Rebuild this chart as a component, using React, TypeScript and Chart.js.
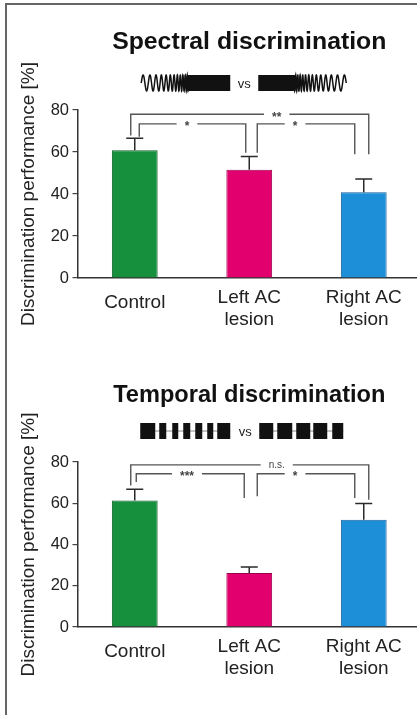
import React, { useEffect, useRef } from "react";
import { Chart, registerables } from "chart.js";

Chart.register(...registerables);

// ---------- data ----------
const categories: (string | string[])[] = ["Control", ["Left AC", "lesion"], ["Right AC", "lesion"]];

const spectralMeans = [60.8, 51.5, 40.8];
const spectralErrTop = [66.5, 57.8, 47.1];

const temporalMeans = [61.3, 26.2, 52.0];
const temporalErrTop = [66.8, 29.1, 59.9];

const spectralLabels = ["**", "*", "*"];
const temporalLabels = ["n.s.", "***", "*"];

const yTicks = [0, 20, 40, 60, 80];

// ---------- styles ----------
const FONT = "'Liberation Sans', Arial, Helvetica, sans-serif";
const barColors = ["#17903d", "#e2006f", "#1d8fd8"];
const barBorders = ["#0b5e26", "#9a004b", "#10609a"];

// bracket geometry (pairs, heights in axis units, pixel offsets of legs, label position)
type Bracket = {
  from: number; to: number; level: number; leftEnd: number; rightEnd: number;
  labelAt: number; dxL: number; dxR: number;
};

const spectralBracketLayout: Bracket[] = [
  { from: 0, to: 2, level: 78.0, leftEnd: 67.9, rightEnd: 58.9, labelAt: 1.24, dxL: -4, dxR: 5 },
  { from: 0, to: 1, level: 73.4, leftEnd: 67.3, rightEnd: 59.7, labelAt: 0.456, dxL: 4.5, dxR: -3.5 },
  { from: 1, to: 2, level: 73.4, leftEnd: 59.7, rightEnd: 58.9, labelAt: 1.4, dxL: 8, dxR: -9 },
];

const temporalBracketLayout: Bracket[] = [
  { from: 0, to: 2, level: 78.6, leftEnd: 68.6, rightEnd: 61.7, labelAt: 1.24, dxL: -4, dxR: 5 },
  { from: 0, to: 1, level: 74.3, leftEnd: 70.3, rightEnd: 62.5, labelAt: 0.456, dxL: 1.5, dxR: -5 },
  { from: 1, to: 2, level: 74.3, leftEnd: 63.4, rightEnd: 62.5, labelAt: 1.4, dxL: 8, dxR: -9 },
];

// ---------- plugins ----------
function errorBarPlugin(errTop: number[]) {
  return {
    id: "errorBars",
    afterDatasetsDraw(chart: any) {
      const { ctx } = chart;
      const y = chart.scales.y;
      const meta = chart.getDatasetMeta(0);
      ctx.save();
      ctx.strokeStyle = "#2a2a2a";
      ctx.lineWidth = 1.5;
      meta.data.forEach((el: any, i: number) => {
        const yt = y.getPixelForValue(errTop[i]);
        ctx.beginPath();
        ctx.moveTo(el.x, el.y);
        ctx.lineTo(el.x, yt);
        ctx.moveTo(el.x - 8.5, yt);
        ctx.lineTo(el.x + 8.5, yt);
        ctx.stroke();
      });
      ctx.restore();
    },
  };
}

function bracketPlugin(layout: Bracket[], labels: string[]) {
  return {
    id: "brackets",
    afterDatasetsDraw(chart: any) {
      const { ctx } = chart;
      const xs = chart.scales.x;
      const ys = chart.scales.y;
      ctx.save();
      ctx.strokeStyle = "#555";
      ctx.lineWidth = 1.4;
      ctx.fillStyle = "#444";
      layout.forEach((b, i) => {
        const label = labels[i];
        const xL = xs.getPixelForValue(b.from) + b.dxL;
        const xR = xs.getPixelForValue(b.to) + b.dxR;
        const yH = ys.getPixelForValue(b.level);
        const yLE = ys.getPixelForValue(b.leftEnd);
        const yRE = ys.getPixelForValue(b.rightEnd);
        const xT = xs.getPixelForValue(b.labelAt);
        const isStar = /^\*+$/.test(label);
        ctx.font = isStar ? `bold 12px ${FONT}` : `10px ${FONT}`;
        const tw = ctx.measureText(label).width;
        const half = tw / 2 + 8;
        ctx.beginPath();
        ctx.moveTo(xL, yLE);
        ctx.lineTo(xL, yH);
        ctx.lineTo(xT - half, yH);
        ctx.moveTo(xT + half, yH);
        ctx.lineTo(xR, yH);
        ctx.lineTo(xR, yRE);
        ctx.stroke();
        ctx.textAlign = "center";
        ctx.textBaseline = "alphabetic";
        ctx.fillText(label, xT, isStar ? yH + 6.5 : yH + 3);
      });
      ctx.restore();
    },
  };
}

function drawChirp(ctx: CanvasRenderingContext2D, xOuter: number, xInner: number, cy: number, amp: number) {
  const L = Math.abs(xInner - xOuter);
  const dir = xInner > xOuter ? 1 : -1;
  const n = Math.ceil(L * 8);
  let phase = 0;
  ctx.beginPath();
  for (let k = 0; k <= n; k++) {
    const u = (L * k) / n;
    const t = k / n;
    const period = 7.5 * (1 - t) + 1.8 * t;
    if (k > 0) phase += (2 * Math.PI * (L / n)) / period;
    const x = xOuter + dir * u;
    const yv = cy - amp * Math.sin(phase);
    if (k === 0) ctx.moveTo(x, yv);
    else ctx.lineTo(x, yv);
  }
  ctx.stroke();
}

function iconPlugin(kind: "spectral" | "temporal") {
  return {
    id: "stimulusIcon",
    afterDraw(chart: any) {
      const { ctx, chartArea } = chart;
      const mid = (chartArea.left + chartArea.right) / 2;
      ctx.save();
      ctx.fillStyle = "#111";
      ctx.strokeStyle = "#111";
      if (kind === "spectral") {
        const cx = mid - 5;
        const cy = chartArea.top - 27;
        const amp = 8;
        ctx.lineWidth = 1.5;
        ctx.lineJoin = "miter";
        drawChirp(ctx, cx - 103, cx - 56, cy, amp);
        drawChirp(ctx, cx + 102, cx + 50, cy, amp);
        ctx.fillRect(cx - 57, cy - amp, 43, amp * 2);
        ctx.fillRect(cx + 14, cy - amp, 37, amp * 2);
        ctx.font = `13px ${FONT}`;
        ctx.textAlign = "center";
        ctx.textBaseline = "middle";
        ctx.fillStyle = "#222";
        ctx.fillText("vs", cx, cy + 1);
      } else {
        const cx = mid - 2;
        const cy = chartArea.top - 31;
        const h = 16;
        const left = [[-107, -92], [-88, -81], [-75, -69], [-64, -57], [-52, -45], [-40, -34], [-30, -17]];
        const right = [[12, 26], [30, 45], [49, 63], [66, 80], [85, 96]];
        ctx.strokeStyle = "#888";
        ctx.lineWidth = 1;
        ctx.beginPath();
        ctx.moveTo(cx - 107, cy);
        ctx.lineTo(cx - 17, cy);
        ctx.moveTo(cx + 12, cy);
        ctx.lineTo(cx + 96, cy);
        ctx.stroke();
        [...left, ...right].forEach(([a, b]) => ctx.fillRect(cx + a, cy - h / 2, b - a, h));
        ctx.font = `13px ${FONT}`;
        ctx.textAlign = "center";
        ctx.textBaseline = "middle";
        ctx.fillStyle = "#222";
        ctx.fillText("vs", cx - 2, cy + 1);
      }
      ctx.restore();
    },
  };
}

function buildConfig(
  title: string,
  titleSize: number,
  means: number[],
  errTop: number[],
  layout: Bracket[],
  labels: string[],
  kind: "spectral" | "temporal",
  titlePad: { top: number; bottom: number },
  bottomPad: number
): any {
  return {
    type: "bar",
    data: {
      labels: categories,
      datasets: [
        {
          data: means,
          backgroundColor: barColors,
          borderColor: barBorders,
          borderWidth: 1,
          barPercentage: 0.4,
          categoryPercentage: 1,
        },
      ],
    },
    options: {
      responsive: false,
      animation: false,
      layout: { padding: { left: 0, right: 9, top: 0, bottom: bottomPad } },
      plugins: {
        legend: { display: false },
        tooltip: { enabled: false },
        title: {
          display: true,
          text: title,
          fullSize: false,
          color: "#111",
          font: { family: FONT, size: titleSize, weight: "bold", lineHeight: 28.8 / titleSize },
          padding: titlePad,
        },
      },
      scales: {
        x: {
          type: "category",
          grid: { display: false, drawTicks: false },
          border: { display: true, color: "#333", width: 1.5 },
          ticks: {
            padding: 9,
            color: "#222",
            maxRotation: 0,
            autoSkip: false,
            font: (c: any) => ({ family: FONT, size: 19, lineHeight: c.index === 0 ? 32 / 19 : 22 / 19 }),
          },
        },
        y: {
          min: yTicks[0],
          max: yTicks[yTicks.length - 1],
          afterFit: (s: any) => {
            s.width = 77.5;
          },
          ticks: {
            stepSize: 10,
            padding: 3.5,
            color: "#222",
            font: { family: FONT, size: 16.5 },
            callback: (v: number) => (yTicks.includes(v) ? String(v) : ""),
          },
          grid: { drawOnChartArea: false, drawTicks: true, tickLength: 5, color: "#444", lineWidth: 1.2 },
          border: { display: true, color: "#333", width: 1.5 },
          title: {
            display: true,
            text: "Discrimination performance [%]",
            color: "#222",
            font: { family: FONT, size: 19, lineHeight: 1.2 },
            padding: { top: 17.6, bottom: 0 },
          },
        },
      },
    },
    plugins: [errorBarPlugin(errTop), bracketPlugin(layout, labels), iconPlugin(kind)],
  };
}

export default function App() {
  const topRef = useRef<HTMLCanvasElement>(null);
  const botRef = useRef<HTMLCanvasElement>(null);

  useEffect(() => {
    const c1 = new Chart(
      topRef.current!,
      buildConfig(
        "Spectral discrimination",
        24.8,
        spectralMeans,
        spectralErrTop,
        spectralBracketLayout,
        spectralLabels,
        "spectral",
        { top: 27.6, bottom: 53.6 },
        15
      )
    );
    const c2 = new Chart(
      botRef.current!,
      buildConfig(
        "Temporal discrimination",
        23.6,
        temporalMeans,
        temporalErrTop,
        temporalBracketLayout,
        temporalLabels,
        "temporal",
        { top: 25.6, bottom: 52.6 },
        26
      )
    );
    return () => {
      c1.destroy();
      c2.destroy();
    };
  }, []);

  return (
    <div
      style={{
        position: "absolute",
        left: 0,
        top: 0,
        width: 417,
        height: 715,
        overflow: "hidden",
        background: "#fff",
      }}
    >
      <canvas ref={topRef} width={430} height={355} style={{ position: "absolute", left: 0, top: 0 }} />
      <canvas ref={botRef} width={430} height={360} style={{ position: "absolute", left: 0, top: 355 }} />
      <div
        style={{
          position: "absolute",
          left: 5,
          top: 3,
          width: 500,
          height: 800,
          borderLeft: "2px solid #666",
          borderTop: "2px solid #666",
          pointerEvents: "none",
        }}
      />
    </div>
  );
}
